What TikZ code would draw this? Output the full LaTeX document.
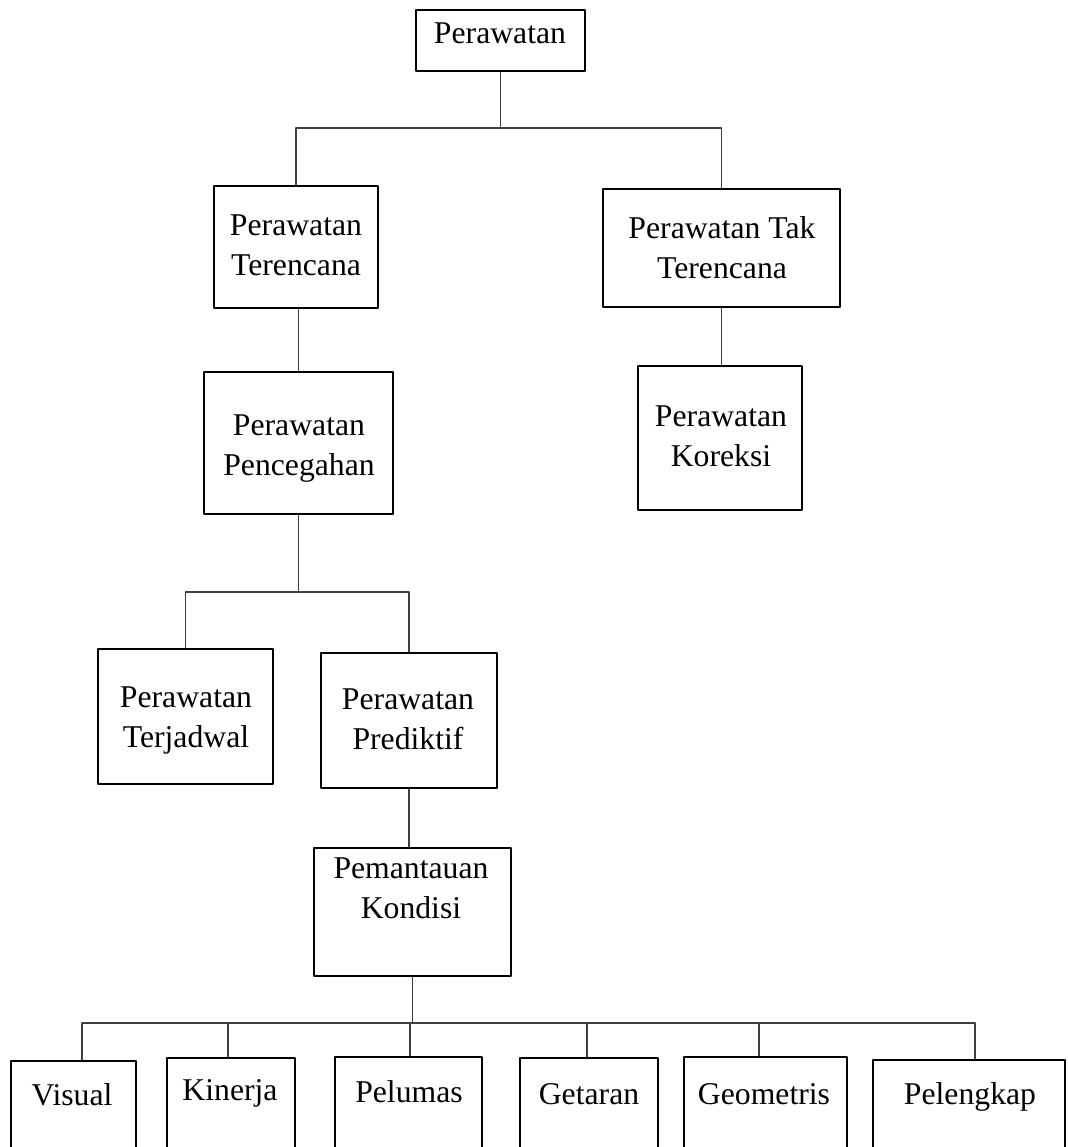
\documentclass[tikz,border=0pt]{standalone}
\usepackage{fontspec}
\setmainfont{Liberation Serif}
\usetikzlibrary{fit,calc}

\tikzset{
  kotak/.style={draw=black, line width=1.3pt, inner sep=0pt},
  teks/.style={inner sep=0pt, align=center,
    font=\fontsize{15.85}{20}\selectfont},
  garis/.style={draw=black!75, line width=0.6pt},
}

\begin{document}
\begin{tikzpicture}[line cap=round,line join=round
  ,x=0.5pt,y=-0.5pt]
  \useasboundingbox (0,0) rectangle (1068,1147);
  \clip (0,0) rectangle (1068,1147);
  % level 0 and 1
  \node[kotak,fit={(416,10) (585,71)}] (per) {};
  \node[teks,anchor=base] (per-t) at (500,43) {Perawatan};
  \node[kotak,fit={(214,186) (378,308)}] (ter) {};
  \node[teks,anchor=north] (ter-t) at (296,214) {Perawatan\\Terencana};
  \node[kotak,fit={(603,189) (840,307)}] (tak) {};
  \node[teks,anchor=north] (tak-t) at (722,216) {Perawatan Tak\\Terencana};
  % level 2
  \node[kotak,fit={(204,372) (393,514)}] (pen) {};
  \node[teks,anchor=north] (pen-t) at (299,414) {Perawatan\\Pencegahan};
  \node[kotak,fit={(638,366) (802,510)}] (kor) {};
  \node[teks,anchor=north] (kor-t) at (721,405) {Perawatan\\Koreksi};
  % level 3
  \node[kotak,fit={(98,649) (273,784)}] (jad) {};
  \node[teks,anchor=north] (jad-t) at (186,686) {Perawatan\\Terjadwal};
  \node[kotak,fit={(321,653) (497,788)}] (pred) {};
  \node[teks,anchor=north] (pred-t) at (408,688) {Perawatan\\Prediktif};
  \node[kotak,fit={(314,848) (511,976)}] (pem) {};
  \node[teks,anchor=north] (pem-t) at (411,857) {Pemantauan\\Kondisi};
  % bottom row
  \node[kotak,fit={(11,1061) (136,1160)}] (vis) {};
  \node[teks,anchor=base] (vis-t) at (72,1105) {Visual};
  \node[kotak,fit={(167,1058) (295,1160)}] (kin) {};
  \node[teks,anchor=base] (kin-t) at (230,1100) {Kinerja};
  \node[kotak,fit={(335,1057) (482,1160)}] (pel) {};
  \node[teks,anchor=base] (pel-t) at (409,1102) {Pelumas};
  \node[kotak,fit={(520,1058) (658,1160)}] (get) {};
  \node[teks,anchor=base] (get-t) at (589,1104) {Getaran};
  \node[kotak,fit={(684,1057) (847,1160)}] (geo) {};
  \node[teks,anchor=base] (geo-t) at (764,1104) {Geometris};
  \node[kotak,fit={(873,1060) (1065,1160)}] (lgk) {};
  \node[teks,anchor=base] (lgk-t) at (970,1104) {Pelengkap};

  % connectors
  \coordinate (bus1) at (500,128);
  \coordinate (bus2) at (301,592);
  \coordinate (bus3) at (410,1023);
  \draw[garis] (per.south) -- (per.south |- bus1);
  \draw[garis] (ter.north) -- (ter.north |- bus1) -- (tak.north |- bus1)
    -- (tak.north);
  \draw[garis] (pen.north) -- (pen.north |- ter.south);
  \draw[garis] (tak.south) -- (tak.south |- kor.north);
  \draw[garis] (pen.south) -- (pen.south |- bus2);
  \draw[garis] (jad.north) -- (jad.north |- bus2) -- (pred.north |- bus2)
    -- (pred.north);
  \draw[garis] (pred.south) -- (pred.south |- pem.north);
  \draw[garis] (pem.south) -- (pem.south |- bus3);
  \foreach \n/\dx in {vis/8.5,kin/-3,pel/1.5,get/-2,geo/-6.5,lgk/6}{
    \path ($(\n.north)+(\dx,0)$) coordinate (d\n);
    \draw[garis] (d\n) -- (d\n |- bus3);
  }
  \draw[garis] (dvis |- bus3) -- (dlgk |- bus3);
\end{tikzpicture}
\end{document}
